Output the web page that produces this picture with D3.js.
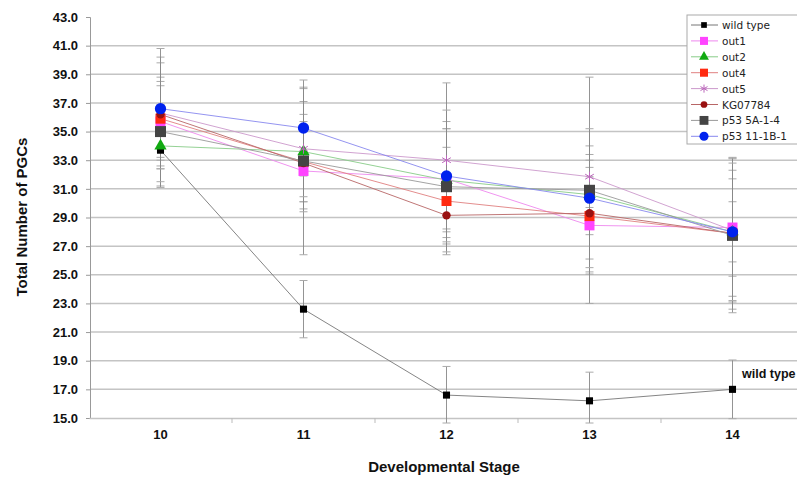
<!DOCTYPE html>
<html>
<head>
<meta charset="utf-8">
<script src="https://cdn.jsdelivr.net/npm/d3@7"></script>
<style>
  body { margin: 0; background: #fff; }
  svg { display: block; }
</style>
</head>
<body>
<div class="canvas"></div>
<script>
const stages = ['10', '11', '12', '13', '14'];
const yTicks = [15, 17, 19, 21, 23, 25, 27, 29, 31, 33, 35, 37, 39, 41, 43];

// series means and error bars
const wildType     = [33.7, 22.6, 16.6, 16.2, 17.0];
const wildTypeErr  = [2.5, 2.0, 2.0, 2.0, 2.05];
const out1         = [35.7, 32.25, 31.7, 28.45, 28.3];
const out1Err      = [2.5, 5.85, 3.5, 3.4, 3.4];
const out2         = [34.0, 33.6, 31.6, 30.6, 28.0];
const out2Err      = [2.9, 3.5, 3.6, 2.8, 2.1];
const out4         = [35.9, 32.9, 30.15, 29.1, 27.9];
const out4Err      = [2.9, 2.8, 3.75, 3.9, 5.3];
const out5         = [36.3, 33.8, 33.0, 31.85, 28.1];
const out5Err      = [3.9, 4.2, 5.4, 2.15, 5.0];
const kg07784      = [36.2, 32.8, 29.15, 29.3, 27.9];
const kg07784Err   = [3.6, 3.4, 2.0, 3.2, 4.4];
const p53a         = [35.0, 32.95, 31.15, 30.9, 27.75];
const p53aErr      = [3.5, 2.5, 4.55, 7.9, 5.4];
const p53b         = [36.6, 35.25, 31.9, 30.35, 28.0];
const p53bErr      = [4.2, 3.35, 4.6, 4.85, 4.8];

const names = ['wild type', 'out1', 'out2', 'out4', 'out5', 'KG07784', 'p53 5A-1-4', 'p53 11-1B-1'];
const values = [wildType, out1, out2, out4, out5, kg07784, p53a, p53b];
const errors = [wildTypeErr, out1Err, out2Err, out4Err, out5Err, kg07784Err, p53aErr, p53bErr];

const styles = [
  {line: '#777777', fill: '#000000', shape: 'square', size: 50},
  {line: '#ee88ee', fill: '#ff44ff', shape: 'square', size: 100},
  {line: '#88cc88', fill: '#11aa11', shape: 'triangle', size: 65},
  {line: '#e08080', fill: '#ff2a10', shape: 'square', size: 100},
  {line: '#cc99cc', fill: 'none', stroke: '#bb66bb', shape: 'asterisk', size: 70},
  {line: '#b86666', fill: '#991111', shape: 'circle', size: 55},
  {line: '#999999', fill: '#444444', shape: 'square', size: 121},
  {line: '#8888ee', fill: '#0022ee', shape: 'circle', size: 100}
];

const series = names.map((name, i) => ({
  name: name,
  style: styles[i],
  points: stages.map((s, j) => ({stage: s, value: values[i][j], err: errors[i][j]}))
}));

const dims = {width: 797, height: 478};
const margin = {left: 90, top: 17, bottom: 418};

const svg = d3.select('.canvas')
  .append('svg')
  .attr('width', dims.width)
  .attr('height', dims.height);

const x = d3.scaleBand()
  .domain(stages)
  .range([89, 804])
  .padding(0);

const cx = s => x(s) + x.bandwidth() / 2;

const y = d3.scaleLinear()
  .domain([15, 43])
  .range([margin.bottom, margin.top]);

const symbolType = shape => {
  if (shape === 'square') return d3.symbolSquare;
  if (shape === 'triangle') return d3.symbolTriangle;
  if (shape === 'circle') return d3.symbolCircle;
  return d3.symbolAsterisk || d3.symbolCross;
};

// gridlines
svg.append('g')
  .selectAll('line')
  .data(yTicks.filter(t => t > 15 && t < 43))
  .enter()
  .append('line')
  .attr('x1', margin.left)
  .attr('x2', dims.width)
  .attr('y1', d => y(d))
  .attr('y2', d => y(d))
  .attr('stroke', '#c4c4c4')
  .attr('stroke-width', 1.5);

// y axis
const yAxis = d3.axisLeft(y)
  .tickValues(yTicks)
  .tickSize(4)
  .tickFormat(d3.format('.1f'));

const yG = svg.append('g')
  .attr('transform', `translate(${margin.left}, 0)`)
  .call(yAxis);
yG.select('.domain').attr('stroke', '#999');
yG.selectAll('.tick line').attr('stroke', '#999');
yG.selectAll('.tick text')
  .attr('x', -12)
  .attr('fill', '#111')
  .style('font', 'bold 13px "Liberation Sans", Arial, sans-serif');

// x axis
const xAxis = d3.axisBottom(x)
  .tickSize(0)
  .tickPadding(12);

const xG = svg.append('g')
  .attr('transform', `translate(0, ${margin.bottom})`)
  .call(xAxis);
xG.select('.domain').attr('stroke', '#c4c4c4').attr('stroke-width', 1.5);
xG.selectAll('.tick text')
  .attr('fill', '#111')
  .style('font', 'bold 13px "Liberation Sans", Arial, sans-serif');

svg.append('g')
  .selectAll('line')
  .data(stages.slice(1))
  .enter()
  .append('line')
  .attr('x1', d => x(d))
  .attr('x2', d => x(d))
  .attr('y1', margin.bottom)
  .attr('y2', margin.bottom + 5)
  .attr('stroke', '#bbb');

// axis titles
svg.append('text')
  .attr('x', 444)
  .attr('y', 472)
  .attr('text-anchor', 'middle')
  .attr('fill', '#111')
  .style('font', 'bold 15px "Liberation Sans", Arial, sans-serif')
  .text('Developmental Stage');

svg.append('text')
  .attr('transform', 'translate(27, 217) rotate(-90)')
  .attr('text-anchor', 'middle')
  .attr('fill', '#111')
  .style('font', 'bold 15px "Liberation Sans", Arial, sans-serif')
  .text('Total Number of PGCs');

// error bars
const errG = svg.append('g');
series.forEach(s => {
  s.points.forEach(p => {
    const top = y(p.value + p.err);
    const bot = Math.min(y(p.value - p.err), margin.bottom + 5);
    const px = cx(p.stage);
    errG.append('line')
      .attr('x1', px).attr('x2', px)
      .attr('y1', top).attr('y2', bot)
      .attr('stroke', '#888').attr('stroke-width', 0.9);
    [top, bot].forEach(v => {
      errG.append('line')
        .attr('x1', px - 4).attr('x2', px + 4)
        .attr('y1', v).attr('y2', v)
        .attr('stroke', '#aaa').attr('stroke-width', 1);
    });
  });
});

// lines
const line = d3.line()
  .x(d => cx(d.stage))
  .y(d => y(d.value));

svg.append('g')
  .selectAll('path')
  .data(series)
  .enter()
  .append('path')
  .attr('d', d => line(d.points))
  .attr('fill', 'none')
  .attr('stroke', d => d.style.line)
  .attr('stroke-width', 0.9);

// markers
series.forEach(s => {
  svg.append('g')
    .selectAll('path')
    .data(s.points)
    .enter()
    .append('path')
    .attr('transform', d => `translate(${cx(d.stage)}, ${y(d.value)})`)
    .attr('d', d3.symbol().type(symbolType(s.style.shape)).size(s.style.size))
    .attr('fill', s.style.fill)
    .attr('stroke', s.style.stroke || 'none')
    .attr('stroke-width', 1);
});

// wild type label
svg.append('text')
  .attr('x', 742)
  .attr('y', 378)
  .attr('fill', '#111')
  .style('font', 'bold 12.5px "Liberation Sans", Arial, sans-serif')
  .text('wild type');

// legend
const legendG = svg.append('g')
  .attr('transform', 'translate(687, 15)');

legendG.append('rect')
  .attr('x', 0).attr('y', 0)
  .attr('width', 116).attr('height', 129)
  .attr('fill', '#fff')
  .attr('stroke', '#aaa');

const items = legendG.selectAll('g.item')
  .data(series)
  .enter()
  .append('g')
  .attr('class', 'item')
  .attr('transform', (d, i) => `translate(0, ${10 + i * 15.9})`);

items.append('line')
  .attr('x1', 4).attr('x2', 31)
  .attr('stroke', d => d.style.line)
  .attr('stroke-width', 1);

items.append('path')
  .attr('transform', 'translate(17, 0)')
  .attr('d', d => d3.symbol().type(symbolType(d.style.shape)).size(d.style.size * 0.65)())
  .attr('fill', d => d.style.fill)
  .attr('stroke', d => d.style.stroke || 'none');

items.append('text')
  .attr('x', 35)
  .attr('y', 4)
  .attr('fill', '#222')
  .style('font', '10.5px "DejaVu Sans", Verdana, sans-serif')
  .text(d => d.name);
</script>
</body>
</html>
